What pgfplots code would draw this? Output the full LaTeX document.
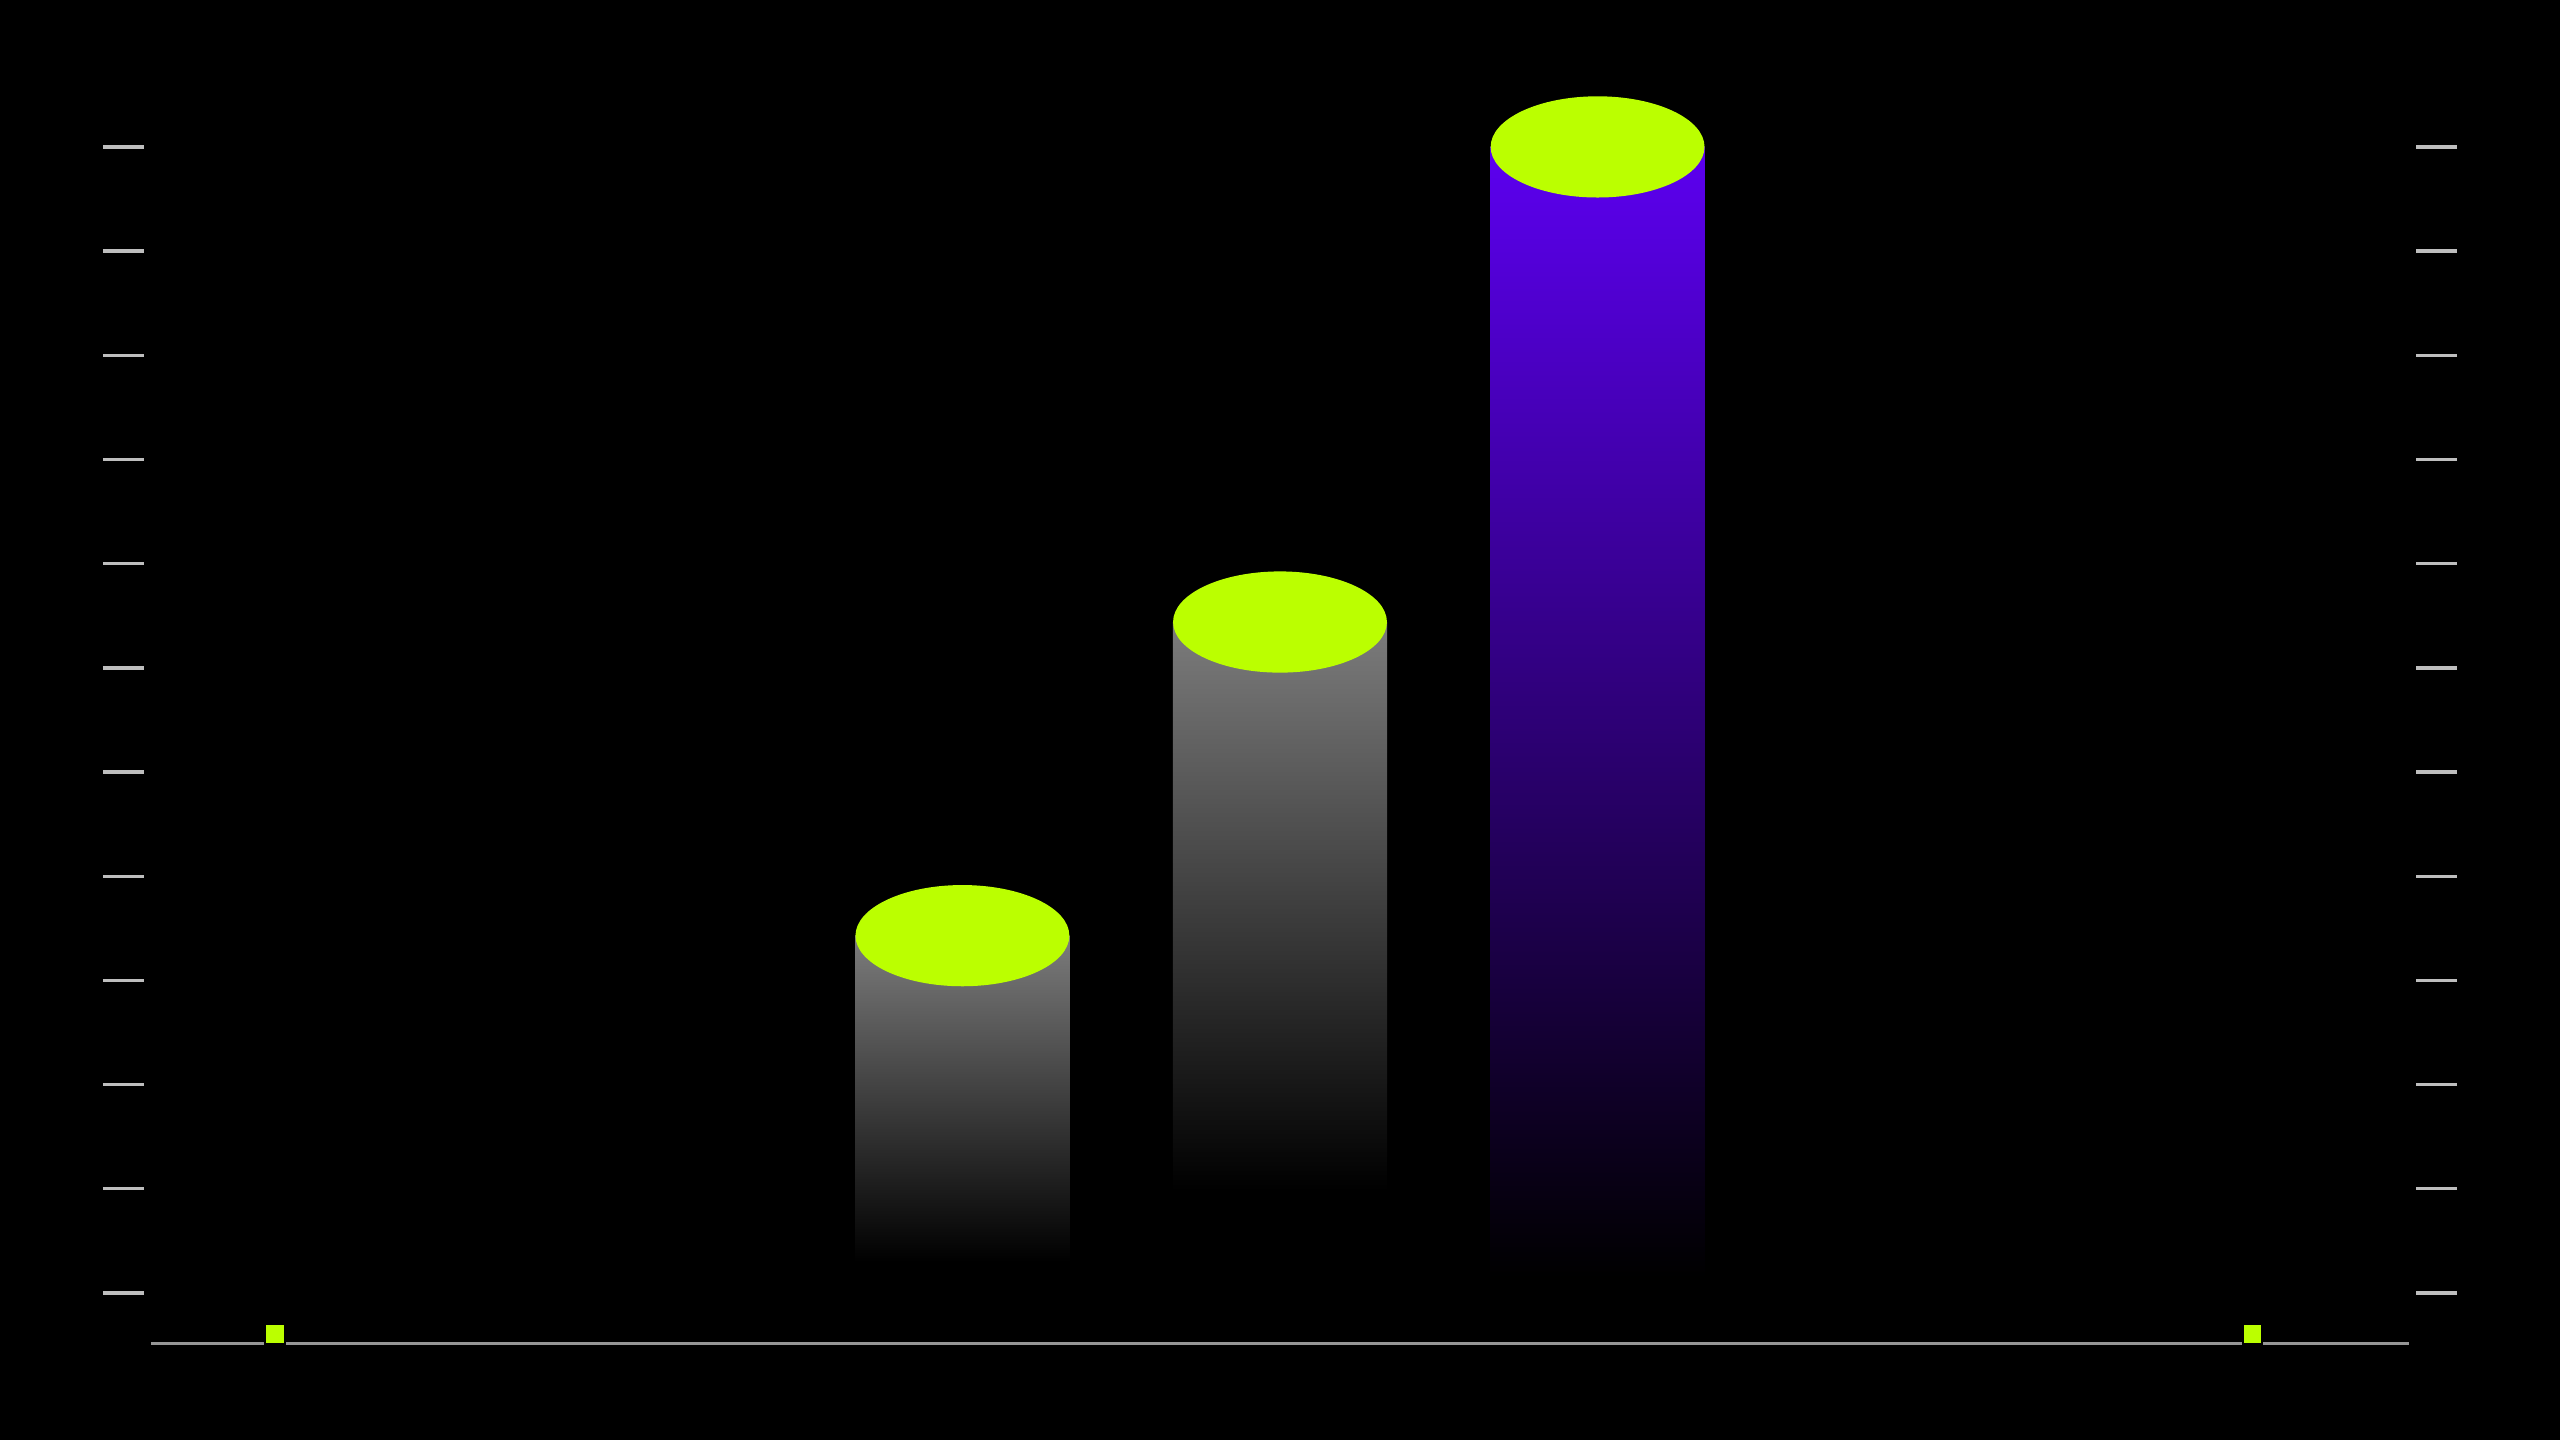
\documentclass[border=0pt]{standalone}
\usepackage{pgfplots}
\pgfplotsset{compat=1.18}
\definecolor{accent}{RGB}{187,255,0}
\definecolor{barpurple}{RGB}{92,0,240}
\definecolor{bargray}{RGB}{124,124,124}
\definecolor{tickgray}{RGB}{190,190,190}
\definecolor{linegray}{RGB}{150,150,150}
\pgfdeclareplotmark{topellipse}{%
  \pgfpathellipse{\pgfpointorigin}{\pgfqpoint{19.65pt}{0pt}}{\pgfqpoint{0pt}{9.3pt}}%
  \pgfusepathqfill}
\begin{document}
\begin{tikzpicture}
\fill[black] (0,0) rectangle (470.4pt,264.6pt);
\begin{axis}[
  at={(26.4pt,17.7pt)}, anchor=south west,
  scale only axis, width=417.6pt, height=237.9pt,
  xmin=-1.578, xmax=5.578,
  ymin=-0.486, ymax=11.94,
  axis line style={draw=none},
  xtick=\empty,
  ytick={0,1,2,3,4,5,6,7,8,9,10,11},
  yticklabels={},
  tick align=outside,
  major tick length=7.5pt,
  major tick style={draw=tickgray, line width=0.6pt},
  clip=false,
]
% bars (gradient bodies)
\addplot[draw=none, no markers, top color=bargray, bottom color=black]
  coordinates {(0.663,0.30) (0.663,3.43) (1.337,3.43) (1.337,0.30)};
\addplot[draw=none, no markers, top color=bargray, bottom color=black]
  coordinates {(1.663,0.98) (1.663,6.44) (2.337,6.44) (2.337,0.98)};
\addplot[draw=none, no markers, top color=barpurple, bottom color=black]
  coordinates {(2.663,0.15) (2.663,11.0) (3.337,11.0) (3.337,0.15)};
% cylinder tops
\addplot[only marks, mark=topellipse, mark options={fill=accent, draw=none}]
  coordinates {(1,3.43) (2,6.44) (3,11.0)};
% baseline
\draw[linegray, line width=0.65pt] (axis cs:-1.555,-0.486) -- (axis cs:5.555,-0.486);
% small markers on baseline
\addplot[only marks, mark=square*, mark size=1.8pt, mark options={fill=accent, draw=none}]
  coordinates {(-1.165,-0.392) (5.062,-0.392)};
\end{axis}
\end{tikzpicture}
\end{document}
